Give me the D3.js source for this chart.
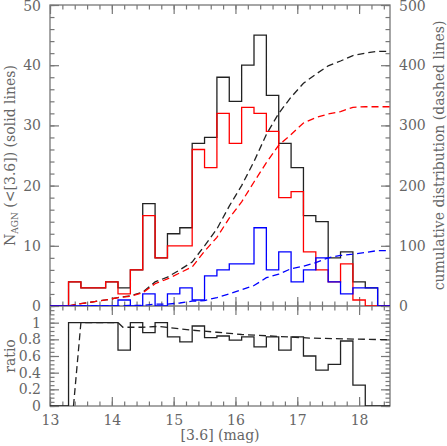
<!DOCTYPE html>
<html>
<head>
<meta charset="utf-8">
<script src="https://cdn.jsdelivr.net/npm/d3@7"></script>
<style>
  body { margin: 0; background: #fff; }
  text { font-family: "DejaVu Serif", serif; fill: #666; }
</style>
</head>
<body>
<div id="chart"></div>
<script>
"use strict";

// histogram bins: left edge of each 0.2 mag bin
const binLo = [12.9, 13.1, 13.3, 13.5, 13.7, 13.9, 14.1, 14.3, 14.5, 14.7, 14.9, 15.1, 15.3, 15.5,
               15.7, 15.9, 16.1, 16.3, 16.5, 16.7, 16.9, 17.1, 17.3, 17.5, 17.7, 17.9, 18.1, 18.3];
const binWidth = 0.2;

// solid histograms (left axis)
const nBlack = [0, 0, 4, 3, 3, 4, 3, 6, 17, 8, 12, 13, 27, 28, 38, 34, 40, 45, 35, 27, 23, 15, 14, 8, 9, 4, 3, 0];
const nRed   = [0, 0, 4, 3, 3, 4, 2, 6, 15, 8, 10, 10, 26, 23, 32, 27, 33, 32, 29, 18, 19, 9, 6, 4, 7, 1, 0, 0];
const nBlue  = [0, 0, 0, 0, 0, 0, 1, 0, 2, 0, 2, 3, 1, 5, 6, 7, 7, 13, 6, 9, 4, 6, 8, 4, 2, 3, 3, 0];

// ratio histogram (lower panel)
const ratio  = [0, 0, 1, 1, 1, 1, 0.67, 1, 0.88, 1, 0.83, 0.77, 0.96, 0.82, 0.84, 0.79, 0.83, 0.71, 0.83,
                0.67, 0.83, 0.6, 0.43, 0.5, 0.78, 0.25, 0, 0];

// cumulative distributions (right axis), read at the bin edges
const cumMag   = [13.3, 13.5, 13.7, 13.9, 14.1, 14.3, 14.5, 14.7, 14.9, 15.1, 15.3, 15.5, 15.7, 15.9,
                  16.1, 16.3, 16.5, 16.7, 16.9, 17.1, 17.3, 17.5, 17.7, 17.9, 18.1, 18.3, 18.5];
const cumBlack = [0, 4, 7, 10, 14, 17, 23, 40, 48, 60, 73, 100, 128, 166, 200, 240, 285, 320, 347, 370, 385,
                  399, 407, 416, 420, 423, 423];
const cumRed   = [0, 4, 7, 10, 14, 16, 22, 37, 45, 55, 65, 91, 114, 146, 173, 206, 238, 267, 285, 304, 313,
                  319, 323, 330, 331, 331, 331];
const cumBlue  = [0, 0, 0, 0, 0, 1, 1, 3, 3, 5, 8, 9, 14, 20, 27, 34, 47, 53, 62, 66, 72, 80, 84, 86, 89, 92, 92];

// cumulative ratio (dashed, lower panel)
const cumRatioMag = [13.38, 13.5, 14.1, 14.18, 14.5, 14.75, 15.0, 15.3, 15.7, 16.1, 16.7, 17.2, 17.8, 18.5];
const cumRatio    = [0, 1, 1, 0.945, 0.945, 0.955, 0.935, 0.91, 0.885, 0.858, 0.835, 0.815, 0.805, 0.795];

const xTicks = [13, 14, 15, 16, 17, 18];


const width = 447;
const height = 446;
const left = 50, right = 390;
const topY = 5, midY = 306, botY = 406;

const axisColor = "#777";

const x = d3.scaleLinear().domain([13, 18.5]).range([left, right]);
const y = d3.scaleLinear().domain([0, 50]).range([midY, topY]);
const yCum = d3.scaleLinear().domain([0, 500]).range([midY, topY]);
const yRat = d3.scaleLinear().domain([0, 1.2]).range([botY, midY]);

const svg = d3.select("#chart").append("svg")
    .attr("width", width)
    .attr("height", height);

const defs = svg.append("defs");
defs.append("clipPath").attr("id", "clipTop")
  .append("rect")
    .attr("x", left).attr("y", topY)
    .attr("width", right - left).attr("height", midY - topY);
defs.append("clipPath").attr("id", "clipBot")
  .append("rect")
    .attr("x", left).attr("y", midY)
    .attr("width", right - left).attr("height", botY - midY);


// step line through a histogram
function stepLine(vals, ys) {
    const pts = binLo.map((m, i) => [m, vals[i]]);
    pts.push([binLo[binLo.length - 1] + binWidth, vals[vals.length - 1]]);
    return d3.line()
        .x(d => x(d[0]))
        .y(d => ys(d[1]))
        .curve(d3.curveStepAfter)(pts);
}

function dashLine(mags, vals, ys) {
    return d3.line()
        .x((d, i) => x(mags[i]))
        .y(d => ys(d))(vals);
}


// ---- axes / ticks

function styleAxis(g) {
    g.select(".domain").remove();
    g.selectAll(".tick line").attr("stroke", axisColor).attr("stroke-width", 1.2);
    g.selectAll(".tick text")
        .attr("font-family", "DejaVu Serif")
        .attr("font-size", 14)
        .attr("fill", "#666");
    g.attr("font-family", null).attr("font-size", null);
}

// makeAxis: () => d3 axis (fresh each time, d3 axes can't be copied)
function ticks(makeAxis, transform, major, minor, showLabels) {
    svg.append("g")
        .attr("transform", transform)
        .call(makeAxis().tickValues(minor).tickSize(-4.5).tickFormat(""))
        .call(styleAxis);
    const a = makeAxis().tickValues(major).tickSize(-9).tickPadding(9);
    if (!showLabels) a.tickFormat("");
    return svg.append("g")
        .attr("transform", transform)
        .call(a)
        .call(styleAxis);
}

const xMinor = d3.range(13, 18.51, 0.2).map(d => +d.toFixed(1));
const yMinor = d3.range(0, 50.1, 2);
const cumMinor = d3.range(0, 501, 20);
const ratMinor = d3.range(0, 1.21, 0.05).map(d => +d.toFixed(2));
const ratMajor = [0, 0.2, 0.4, 0.6, 0.8, 1];

// top panel
const gl = ticks(() => d3.axisLeft(y), `translate(${left},0)`, [0, 10, 20, 30, 40, 50], yMinor, true);
const gr = ticks(() => d3.axisRight(yCum), `translate(${right},0)`, [0, 100, 200, 300, 400, 500], cumMinor, true);
ticks(() => d3.axisTop(x), `translate(0,${topY})`, xTicks, xMinor, false);
ticks(() => d3.axisBottom(x), `translate(0,${midY})`, xTicks, xMinor, false);

// keep the topmost labels inside the page
gl.selectAll(".tick text").filter(d => d === 50).attr("dy", "0.42em");
gr.selectAll(".tick text").filter(d => d === 500).attr("dy", "0.42em");

// bottom panel
ticks(() => d3.axisLeft(yRat).tickFormat(d => d), `translate(${left},0)`, ratMajor, ratMinor, true);
ticks(() => d3.axisRight(yRat), `translate(${right},0)`, ratMajor, ratMinor, false);
ticks(() => d3.axisTop(x), `translate(0,${midY})`, xTicks, xMinor, false);
ticks(() => d3.axisBottom(x).tickFormat(d3.format("d")), `translate(0,${botY})`, xTicks, xMinor, true);

// frames
svg.append("rect")
    .attr("x", left).attr("y", topY)
    .attr("width", right - left).attr("height", botY - topY)
    .attr("fill", "none")
    .attr("stroke", axisColor)
    .attr("stroke-width", 1.3);
svg.append("line")
    .attr("x1", left).attr("x2", right)
    .attr("y1", midY).attr("y2", midY)
    .attr("stroke", axisColor)
    .attr("stroke-width", 1.3);


// ---- top panel data

const gTop = svg.append("g").attr("clip-path", "url(#clipTop)")
    .attr("fill", "none")
    .attr("stroke-width", 1.3);

gTop.append("path").attr("d", stepLine(nBlack, y)).attr("stroke", "#222");
gTop.append("path").attr("d", stepLine(nRed, y)).attr("stroke", "#f00");
gTop.append("path").attr("d", stepLine(nBlue, y)).attr("stroke", "#00f");

gTop.append("path").attr("d", dashLine(cumMag, cumBlack, yCum))
    .attr("stroke", "#222").attr("stroke-dasharray", "7,4");
gTop.append("path").attr("d", dashLine(cumMag, cumRed, yCum))
    .attr("stroke", "#f00").attr("stroke-dasharray", "7,4");
gTop.append("path").attr("d", dashLine(cumMag, cumBlue, yCum))
    .attr("stroke", "#00f").attr("stroke-dasharray", "7,4");


// ---- bottom panel data

const gBot = svg.append("g").attr("clip-path", "url(#clipBot)")
    .attr("fill", "none")
    .attr("stroke-width", 1.3);

gBot.append("path").attr("d", stepLine(ratio, yRat)).attr("stroke", "#222");
gBot.append("path").attr("d", dashLine(cumRatioMag, cumRatio, yRat))
    .attr("stroke", "#222").attr("stroke-dasharray", "7,4");


// ---- titles

const tLeft = svg.append("text")
    .attr("transform", `translate(15,${(topY + midY) / 2}) rotate(-90)`)
    .attr("text-anchor", "middle")
    .attr("font-size", 14);
tLeft.append("tspan").text("N");
tLeft.append("tspan").attr("font-size", 9).attr("dy", 3).text("AGN");
tLeft.append("tspan").attr("dy", -3).text(" (<[3.6]) (solid lines)");

svg.append("text")
    .attr("transform", `translate(444,${(topY + midY) / 2}) rotate(-90)`)
    .attr("text-anchor", "middle")
    .attr("font-size", 14)
    .text("cumulative distribution (dashed lines)");

svg.append("text")
    .attr("transform", `translate(15,${(midY + botY) / 2}) rotate(-90)`)
    .attr("text-anchor", "middle")
    .attr("font-size", 14)
    .text("ratio");

svg.append("text")
    .attr("x", (left + right) / 2)
    .attr("y", 440)
    .attr("text-anchor", "middle")
    .attr("font-size", 14)
    .text("[3.6] (mag)");

</script>
</body>
</html>
